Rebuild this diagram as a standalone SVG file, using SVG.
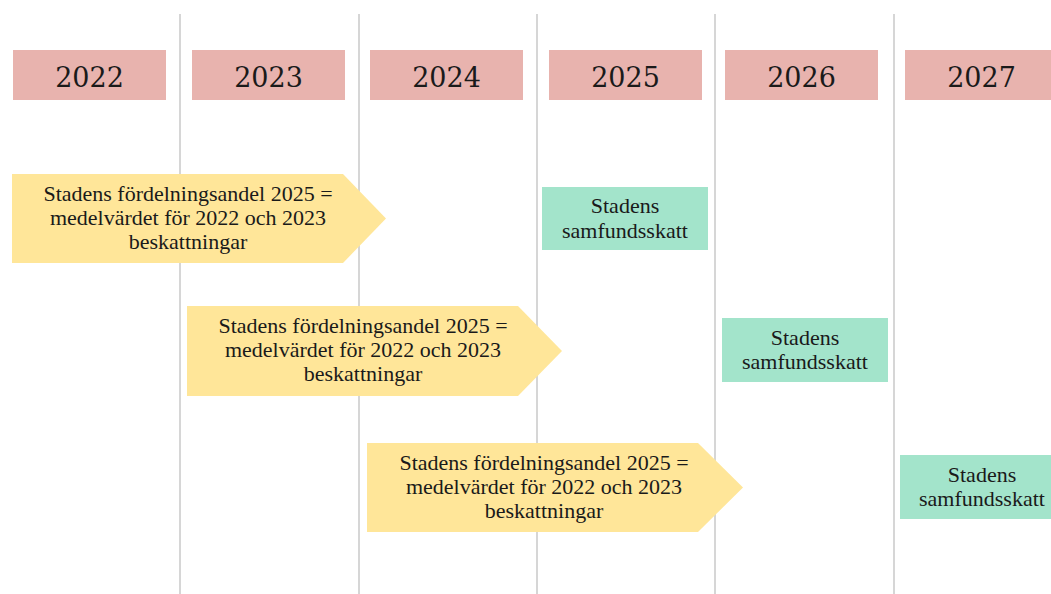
<svg xmlns="http://www.w3.org/2000/svg" width="1051" height="594" viewBox="0 0 1051 594">
  <style>
    .grid { stroke: #C8C8C8; stroke-width: 1.5; }
    .year { fill: #E8B3AE; }
    .yt { font-family: "DejaVu Serif", "Liberation Serif", serif; font-size: 27px; fill: #1a1a1a; text-anchor: middle; }
    .arrow { fill: #FFE699; }
    .tax { fill: #A3E4CB; }
    .t { font-family: "Liberation Serif", "Times New Roman", serif; font-size: 22px; fill: #1a1a1a; text-anchor: middle; }
  </style>
  <rect width="1051" height="594" fill="#FFFFFF"/>
  <g id="gridlines">
    <line class="grid" x1="180" y1="14" x2="180" y2="594"/>
    <line class="grid" x1="359" y1="14" x2="359" y2="594"/>
    <line class="grid" x1="537" y1="14" x2="537" y2="594"/>
    <line class="grid" x1="715" y1="14" x2="715" y2="594"/>
    <line class="grid" x1="894" y1="14" x2="894" y2="594"/>
  </g>
  <g id="year-2022"><rect class="year" x="13" y="50" width="153" height="50"/><text class="yt" x="89.5" y="87">2022</text></g>
  <g id="year-2023"><rect class="year" x="192" y="50" width="153" height="50"/><text class="yt" x="268.5" y="87">2023</text></g>
  <g id="year-2024"><rect class="year" x="370" y="50" width="153" height="50"/><text class="yt" x="446.5" y="87">2024</text></g>
  <g id="year-2025"><rect class="year" x="549" y="50" width="153" height="50"/><text class="yt" x="625.5" y="87">2025</text></g>
  <g id="year-2026"><rect class="year" x="725" y="50" width="153" height="50"/><text class="yt" x="801.5" y="87">2026</text></g>
  <g id="year-2027"><rect class="year" x="905" y="50" width="153" height="50"/><text class="yt" x="981.5" y="87">2027</text></g>

  <g id="arrow-1">
    <polygon class="arrow" points="12,174 343,174 386,218.5 343,263 12,263"/>
    <text class="t" x="188" y="200.5">Stadens fördelningsandel 2025 =</text>
    <text class="t" x="188" y="224.5">medelvärdet för 2022 och 2023</text>
    <text class="t" x="188" y="248.5">beskattningar</text>
  </g>
  <g id="arrow-2">
    <polygon class="arrow" points="187,306 518,306 562,351 518,396 187,396"/>
    <text class="t" x="363" y="333">Stadens fördelningsandel 2025 =</text>
    <text class="t" x="363" y="357">medelvärdet för 2022 och 2023</text>
    <text class="t" x="363" y="381">beskattningar</text>
  </g>
  <g id="arrow-3">
    <polygon class="arrow" points="367,443 698,443 743,487.5 698,532 367,532"/>
    <text class="t" x="544" y="469.5">Stadens fördelningsandel 2025 =</text>
    <text class="t" x="544" y="493.5">medelvärdet för 2022 och 2023</text>
    <text class="t" x="544" y="517.5">beskattningar</text>
  </g>

  <g id="tax-2025">
    <rect class="tax" x="542" y="187" width="166" height="63"/>
    <text class="t" x="625" y="213">Stadens</text>
    <text class="t" x="625" y="238">samfundsskatt</text>
  </g>
  <g id="tax-2026">
    <rect class="tax" x="722" y="318" width="166" height="64"/>
    <text class="t" x="805" y="345">Stadens</text>
    <text class="t" x="805" y="369">samfundsskatt</text>
  </g>
  <g id="tax-2027">
    <rect class="tax" x="900" y="455" width="165" height="64"/>
    <text class="t" x="982" y="482">Stadens</text>
    <text class="t" x="982" y="506">samfundsskatt</text>
  </g>
</svg>
